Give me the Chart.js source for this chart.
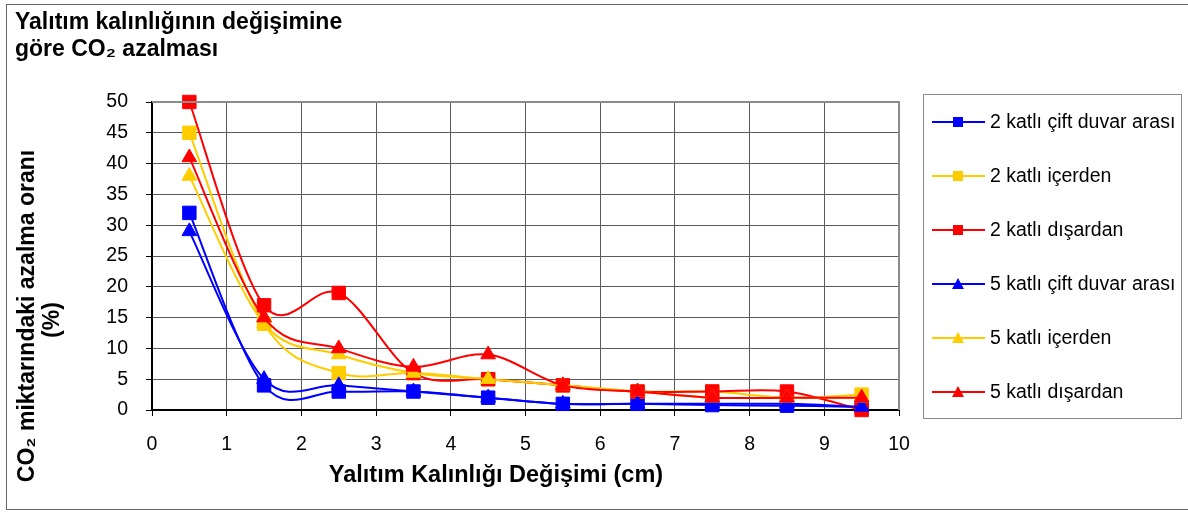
<!DOCTYPE html>
<html>
<head>
<meta charset="utf-8">
<script src="https://cdn.jsdelivr.net/npm/chart.js@4.4.1/dist/chart.umd.min.js"></script>
<style>
  html, body { margin: 0; padding: 0; background: #fff; }
  #wrap { position: relative; width: 1188px; height: 512px; }
</style>
</head>
<body>
<div id="wrap"><canvas id="c" width="1188" height="512"></canvas></div>
<script>
// ---- data ----
const xValues = [0.5, 1.5, 2.5, 3.5, 4.5, 5.5, 6.5, 7.5, 8.5, 9.5];
const seriesLabels = [
  "2 katlı çift duvar arası",
  "2 katlı içerden",
  "2 katlı dışardan",
  "5 katlı çift duvar arası",
  "5 katlı içerden",
  "5 katlı dışardan"
];
const kat2Cift    = [32, 4, 3, 3, 2, 1, 1, 0.8, 0.7, 0.5];
const kat2Icerden = [45, 14, 6, 6, 5, 4, 3, 3, 2, 2.5];
const kat2Disardan= [50, 17, 19, 6, 5, 4, 3, 3, 3, 0];
const kat5Cift    = [29, 5, 4, 3, 2, 1, 1, 1, 1, 0.5];
const kat5Icerden = [38, 14, 9, 6, 5, 4, 3, 2, 2, 2];
const kat5Disardan= [41, 15, 10, 7, 9, 4, 3, 2, 2, 2];
const xTicks = [0, 1, 2, 3, 4, 5, 6, 7, 8, 9, 10];
const yTicks = [0, 5, 10, 15, 20, 25, 30, 35, 40, 45, 50];
const titleLines = ["Yalıtım kalınlığının değişimine", "göre CO₂ azalması"];
const xTitle = "Yalıtım Kalınlığı Değişimi (cm)";
const yTitleLines = ["CO₂ miktarındaki azalma oranı", "(%)"];

const seriesValues = [kat2Cift, kat2Icerden, kat2Disardan, kat5Cift, kat5Icerden, kat5Disardan];
const colors = ["#0000FF", "#FFCC00", "#FF0000", "#0000FF", "#FFCC00", "#FF0000"];
const styles = ["rect", "rect", "rect", "triangle", "triangle", "triangle"];

const FONT = "'Liberation Sans', Arial, sans-serif";

const datasets = seriesValues.map((vals, i) => ({
  label: seriesLabels[i],
  data: xValues.map((x, j) => ({ x: x, y: vals[j] })),
  borderColor: colors[i],
  backgroundColor: colors[i],
  borderWidth: 2,
  pointStyle: styles[i],
  pointRadius: styles[i] === "rect" ? 9.5 : 8.5,
  pointBorderWidth: 1,
  pointBorderColor: colors[i],
  pointBackgroundColor: colors[i],
  tension: 0.4,
  fill: false,
  clip: false,
  order: seriesValues.length - i
}));

// Excel-like smoothing (Catmull-Rom, 1/6) on library-computed point positions
const smoothPlugin = {
  id: "excelSmooth",
  beforeDatasetDraw(chart, args) {
    const meta = args.meta;
    const line = meta.dataset;
    if (!line || typeof line.updateControlPoints !== "function") return;
    line.updateControlPoints(chart.chartArea, "x");
    const pts = meta.data;
    for (let i = 0; i < pts.length; i++) {
      const p = pts[i];
      const prev = pts[i - 1] || p;
      const next = pts[i + 1] || p;
      const dx = (next.x - prev.x) / 6;
      const dy = (next.y - prev.y) / 6;
      p.cp1x = p.x - dx; p.cp1y = p.y - dy;
      p.cp2x = p.x + dx; p.cp2y = p.y + dy;
    }
    line._path = undefined;
  }
};

const decorPlugin = {
  id: "decor",
  afterDraw(chart) {
    const ctx = chart.ctx;
    const a = chart.chartArea;
    ctx.save();
    // plot top/right border
    ctx.strokeStyle = "#8c8c8c";
    ctx.lineWidth = 2;
    ctx.beginPath();
    ctx.moveTo(a.left, a.top);
    ctx.lineTo(a.right, a.top);
    ctx.lineTo(a.right, a.bottom);
    ctx.stroke();

    // outer frame
    ctx.strokeStyle = "#666";
    ctx.lineWidth = 1;
    ctx.strokeRect(6.5, 4.5, 1200, 505);

    // chart title
    ctx.fillStyle = "#000";
    ctx.font = "bold 23px " + FONT;
    ctx.textAlign = "left";
    ctx.textBaseline = "alphabetic";
    ctx.fillText(titleLines[0], 15, 29);
    ctx.fillText(titleLines[1], 15, 56);

    // x axis title
    ctx.font = "bold 23.5px " + FONT;
    ctx.textAlign = "center";
    ctx.textBaseline = "middle";
    ctx.fillText(xTitle, 496, 476);

    // y axis title
    ctx.font = "bold 23px " + FONT;
    ctx.save();
    ctx.translate(28, 316);
    ctx.rotate(-Math.PI / 2);
    ctx.fillText(yTitleLines[0], 0, 0);
    ctx.restore();
    ctx.save();
    ctx.translate(53, 320);
    ctx.rotate(-Math.PI / 2);
    ctx.fillText(yTitleLines[1], 0, 0);
    ctx.restore();

    // legend
    ctx.strokeStyle = "#8c8c8c";
    ctx.lineWidth = 1;
    ctx.strokeRect(923.5, 94.5, 258, 324);
    ctx.font = "19.5px " + FONT;
    ctx.textAlign = "left";
    ctx.textBaseline = "middle";
    chart.data.datasets.forEach((ds, i) => {
      const y = 122 + i * 54;
      ctx.strokeStyle = ds.borderColor;
      ctx.fillStyle = ds.borderColor;
      ctx.lineWidth = 2;
      ctx.beginPath();
      ctx.moveTo(932, y);
      ctx.lineTo(985, y);
      ctx.stroke();
      const mx = 958;
      if (ds.pointStyle === "rect") {
        ctx.fillRect(mx - 5, y - 5, 10, 10);
      } else {
        ctx.beginPath();
        ctx.moveTo(mx, y - 6);
        ctx.lineTo(mx + 6, y + 5);
        ctx.lineTo(mx - 6, y + 5);
        ctx.closePath();
        ctx.fill();
      }
      ctx.fillStyle = "#000";
      ctx.fillText(ds.label, 990, y + 1);
    });
    ctx.restore();
  }
};

new Chart(document.getElementById("c"), {
  type: "line",
  data: { datasets: datasets },
  options: {
    responsive: false,
    animation: false,
    devicePixelRatio: 1,
    layout: { padding: { left: 0, top: 102, right: 289, bottom: 0 } },
    plugins: {
      legend: { display: false },
      title: { display: false },
      tooltip: { enabled: false }
    },
    scales: {
      x: {
        type: "linear",
        min: 0,
        max: 10,
        afterFit: (s) => { s.height = 102; },
        afterBuildTicks: (s) => { s.ticks = xTicks.map(v => ({ value: v })); },
        ticks: { color: "#000", font: { family: FONT, size: 19.5 }, padding: 17, maxRotation: 0, autoSkip: false },
        grid: { color: "#5a5a5a", lineWidth: 1, tickLength: 6, tickColor: "#000", drawTicks: true },
        border: { display: true, color: "#000", width: 2 }
      },
      y: {
        type: "linear",
        min: 0,
        max: 50,
        afterFit: (s) => { s.width = 152; },
        afterBuildTicks: (s) => { s.ticks = yTicks.map(v => ({ value: v })); },
        ticks: { color: "#000", font: { family: FONT, size: 19.5 }, padding: 18, autoSkip: false },
        grid: { color: "#5a5a5a", lineWidth: 1, tickLength: 6, tickColor: "#000", drawTicks: true },
        border: { display: true, color: "#000", width: 2 }
      }
    }
  },
  plugins: [smoothPlugin, decorPlugin]
});
</script>
</body>
</html>
